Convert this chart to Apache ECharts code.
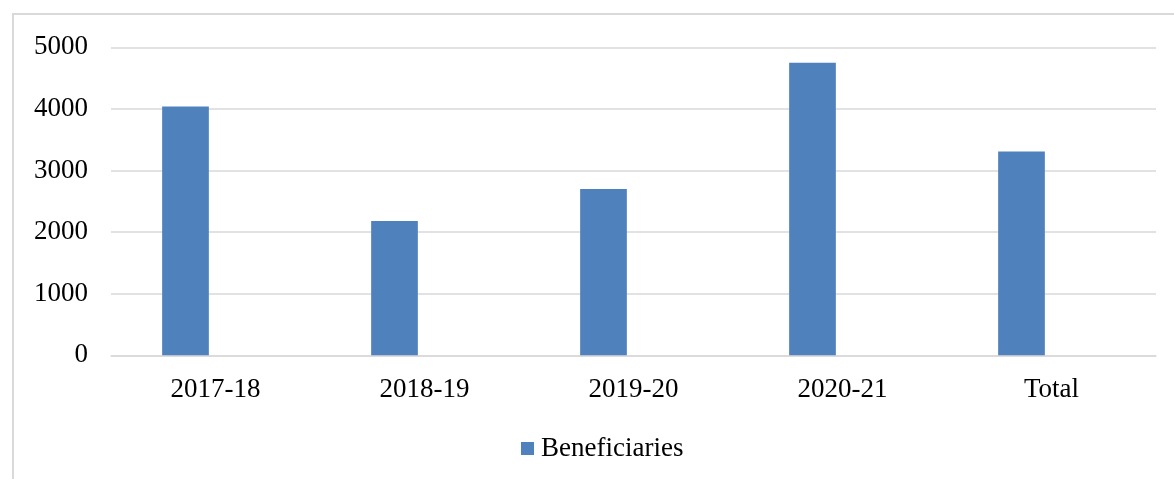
<!DOCTYPE html>
<html>
<head>
<meta charset="utf-8">
<script src="https://cdn.jsdelivr.net/npm/echarts@6/dist/echarts.min.js"></script>
<style>
  html, body { margin: 0; padding: 0; background: #fff; }
  #chart { width: 1174px; height: 479px; }
</style>
</head>
<body>
<div id="chart"></div>
<script>
// Yearly beneficiaries plus the overall total
const categories = ['2017-18', '2018-19', '2019-20', '2020-21', 'Total'];
const beneficiaries = [4040, 2180, 2700, 4750, 3310];
// Empty companion series that keeps each bar left of its category centre
const spacer = ['-', '-', '-', '-', '-'];
const yTicks = { min: 0, max: 5000, interval: 1000 };

const FONT = '"Liberation Serif", "Times New Roman", serif';
const TEXT = '#000000';
const GRID = '#d9d9d9';

const chart = echarts.init(document.getElementById('chart'), null, { renderer: 'canvas' });

chart.setOption({
  backgroundColor: '#ffffff',
  animation: false,
  graphic: [{
    type: 'rect',
    shape: { x: 13, y: 14, width: 1300, height: 600 },
    style: { fill: 'none', stroke: GRID, lineWidth: 2 },
    silent: true,
    z: -1
  }],
  grid: { left: 111, right: 18, top: 47.3, bottom: 123.7, containLabel: false },
  legend: {
    data: ['Beneficiaries'],
    left: 516,
    top: 430,
    icon: 'rect',
    itemWidth: 13,
    itemHeight: 13,
    itemGap: 10,
    textStyle: { fontFamily: FONT, fontSize: 27, color: TEXT, padding: [0, 0, 0, 2] }
  },
  xAxis: {
    type: 'category',
    data: categories,
    axisLine: { show: true, lineStyle: { color: GRID, width: 1.5 } },
    axisTick: { show: false },
    axisLabel: { fontFamily: FONT, fontSize: 27, color: TEXT, margin: 21 },
    splitLine: { show: false }
  },
  yAxis: {
    type: 'value',
    min: yTicks.min,
    max: yTicks.max,
    interval: yTicks.interval,
    axisLine: { show: false },
    axisTick: { show: false },
    axisLabel: {
      fontFamily: FONT, fontSize: 27, color: TEXT, margin: 23,
      formatter: (v) => String(v)
    },
    splitLine: { show: true, lineStyle: { color: GRID, width: 1.5 } }
  },
  series: [
    {
      name: 'Beneficiaries',
      type: 'bar',
      data: beneficiaries,
      barWidth: 46.7,
      barGap: '28.5%',
      itemStyle: { color: '#4f81bd' }
    },
    {
      name: 'spacer',
      type: 'bar',
      data: spacer,
      barWidth: 46.7,
      itemStyle: { color: '#c0504d' }
    }
  ]
});
</script>
</body>
</html>
